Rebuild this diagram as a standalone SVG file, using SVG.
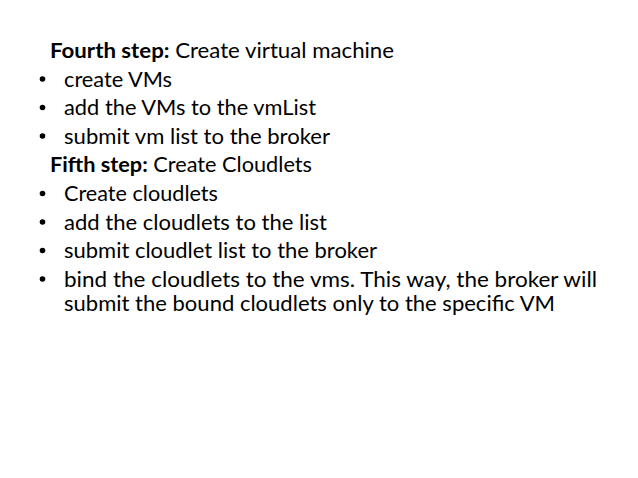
<svg xmlns="http://www.w3.org/2000/svg" width="638" height="478" viewBox="0 0 638 478">
<style>
.t{font-family:Lato,"Open Sans","Liberation Sans",sans-serif;font-size:21.5px;fill:#000}
.b{font-weight:bold}
.dot{fill:#000}
</style>
<rect width="638" height="478" fill="#fff"/>
<g id="step4">
<text class="t" x="50" y="58" textLength="344" lengthAdjust="spacingAndGlyphs"><tspan class="b">Fourth step:</tspan> Create virtual machine</text>
</g>
<g id="step4-items">
<circle class="dot" cx="42.5" cy="79" r="2.8"/>
<text class="t" x="64" y="86.5" textLength="108" lengthAdjust="spacingAndGlyphs">create VMs</text>
<circle class="dot" cx="42.5" cy="107.5" r="2.8"/>
<text class="t" x="64" y="115" textLength="252" lengthAdjust="spacingAndGlyphs">add the VMs to the vmList</text>
<circle class="dot" cx="42.5" cy="136" r="2.8"/>
<text class="t" x="64" y="143.5" textLength="266" lengthAdjust="spacingAndGlyphs">submit vm list to the broker</text>
</g>
<g id="step5">
<text class="t" x="50" y="172" textLength="262" lengthAdjust="spacingAndGlyphs"><tspan class="b">Fifth step:</tspan> Create Cloudlets</text>
</g>
<g id="step5-items">
<circle class="dot" cx="42.5" cy="193.5" r="2.8"/>
<text class="t" x="64" y="201" textLength="154" lengthAdjust="spacingAndGlyphs">Create cloudlets</text>
<circle class="dot" cx="42.5" cy="222" r="2.8"/>
<text class="t" x="64" y="229.5" textLength="263" lengthAdjust="spacingAndGlyphs">add the cloudlets to the list</text>
<circle class="dot" cx="42.5" cy="250.5" r="2.8"/>
<text class="t" x="64" y="258" textLength="313" lengthAdjust="spacingAndGlyphs">submit cloudlet list to the broker</text>
<circle class="dot" cx="42.5" cy="279" r="2.8"/>
<text class="t" x="64" y="286.5" textLength="533" lengthAdjust="spacingAndGlyphs">bind the cloudlets to the vms. This way, the broker will</text>
<text class="t" x="64" y="310.5" textLength="491" lengthAdjust="spacingAndGlyphs">submit the bound cloudlets only to the specific VM</text>
</g>
<g id="connectors"></g>
</svg>
